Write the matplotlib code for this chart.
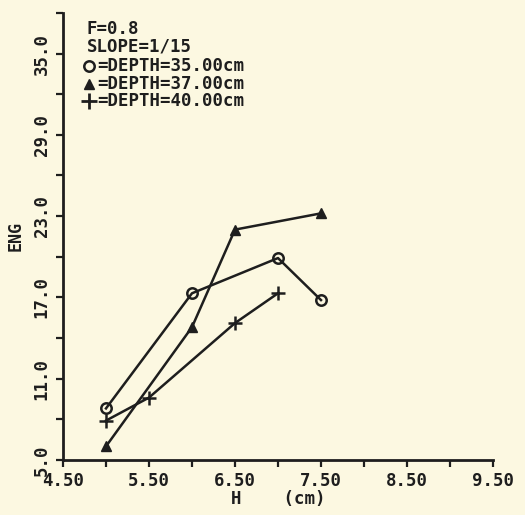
import matplotlib.pyplot as plt
import numpy as np

# data
h_35 = [5.0, 6.0, 7.0, 7.5]
eng_35 = [8.8, 17.3, 19.9, 16.8]
h_37 = [5.0, 6.0, 6.5, 7.5]
eng_37 = [6.0, 14.8, 22.0, 23.2]
h_40 = [5.0, 5.5, 6.5, 7.0]
eng_40 = [7.9, 9.6, 15.1, 17.3]

x_ticks = [4.5, 5.0, 5.5, 6.0, 6.5, 7.0, 7.5, 8.0, 8.5, 9.0, 9.5]
y_ticks = [5.0, 8.0, 11.0, 14.0, 17.0, 20.0, 23.0, 26.0, 29.0, 32.0, 35.0, 38.0]

bg = '#fcf8e1'
ink = '#1e1e1e'
font = dict(family='DejaVu Sans Mono', weight='bold', color=ink)

fig = plt.figure(figsize=(5.25, 5.15), dpi=100, facecolor=bg)
ax = fig.add_axes([0.12, 0.107, 0.819, 0.868], facecolor=bg)

ax.plot(h_35, eng_35, '-', color=ink, lw=1.8, marker='o', ms=7.5,
        mfc='none', mec=ink, mew=1.8)
ax.plot(h_37, eng_37, '-', color=ink, lw=1.8, marker='^', ms=7, mfc=ink, mec=ink)
ax.plot(h_40, eng_40, '-', color=ink, lw=1.8, marker='+', ms=10, mew=1.8, mec=ink)

ax.set_xlim(4.5, 9.5)
ax.set_ylim(5.0, 38.0)
ax.set_xticks(x_ticks)
ax.set_xticklabels([f"{v:.2f}" if i % 2 == 0 else "" for i, v in enumerate(x_ticks)])
ax.set_yticks(y_ticks)
ax.set_yticklabels([f"{v:.1f}" if i % 2 == 0 and v < 38 else "" for i, v in enumerate(y_ticks)])

for s in ['top', 'right']:
    ax.spines[s].set_visible(False)
for s in ['left', 'bottom']:
    ax.spines[s].set_color(ink)
    ax.spines[s].set_linewidth(2.0)
ax.tick_params(direction='out', length=5, width=1.6, color=ink, pad=4)
for lbl in ax.get_xticklabels():
    lbl.set(**font, size=12.5)
for lbl in ax.get_yticklabels():
    lbl.set(**font, size=12.5, rotation=90, va='center')

ax.set_xlabel("H    (cm)", fontdict=dict(font, size=12.5), labelpad=0)
ax.set_ylabel("ENG", fontdict=dict(font, size=12), labelpad=6)

# legend drawn as plotter text
tx = 0.055
ax.text(tx, 0.985, "F=0.8", transform=ax.transAxes, size=12.5, va='top', **font)
ax.text(tx, 0.945, "SLOPE=1/15", transform=ax.transAxes, size=12.5, va='top', **font)
rows = [("o", "=DEPTH=35.00cm"), ("^", "=DEPTH=37.00cm"), ("+", "=DEPTH=40.00cm")]
for i, (m, txt) in enumerate(rows):
    yy = 0.882 - i * 0.04
    if m == 'o':
        ax.plot(0.06, yy, marker='o', ms=7.5, mfc='none', mec=ink, mew=1.8,
                transform=ax.transAxes, clip_on=False)
    elif m == '^':
        ax.plot(0.06, yy, marker='^', ms=7.5, mfc=ink, mec=ink,
                transform=ax.transAxes, clip_on=False)
    else:
        ax.plot(0.06, yy, marker='+', ms=11, mew=2.0, mec=ink,
                transform=ax.transAxes, clip_on=False)
    ax.text(0.08, yy, txt, transform=ax.transAxes, size=12.5, va='center', **font)

fig.savefig("out.png", dpi=100, facecolor=bg)
